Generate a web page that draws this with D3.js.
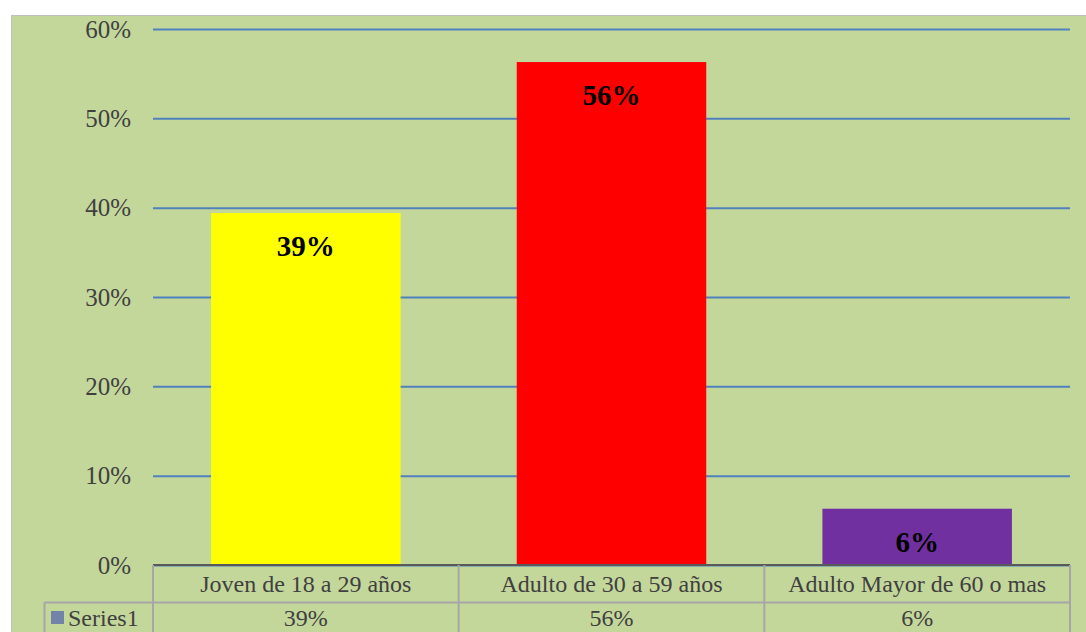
<!DOCTYPE html>
<html>
<head>
<meta charset="utf-8">
<script src="https://cdn.jsdelivr.net/npm/d3@7"></script>
<style>
  body { margin: 0; background: #fff; }
  svg { display: block; }
</style>
</head>
<body>
<script>
const categories = ["Joven de 18 a 29 años", "Adulto de 30 a 59 años", "Adulto Mayor de 60 o mas"];
const values = [0.394, 0.563, 0.063];
const valueLabels = ["39%", "56%", "6%"];
const barColors = ["#ffff00", "#ff0000", "#7030a0"];
const yTicks = [0, 0.1, 0.2, 0.3, 0.4, 0.5, 0.6];
const seriesName = "Series1";

const width = 1086;
const height = 632;
const margin = { top: 29, left: 153, right: 16, bottom: 67 };
const font = "'Liberation Serif', 'DejaVu Serif', serif";
const textSize = 24;

const svg = d3.select("body").append("svg")
  .attr("width", width)
  .attr("height", height);

//Chart background
svg.append("rect")
  .attr("x", 11.5).attr("y", 15.5)
  .attr("width", width).attr("height", height)
  .attr("fill", "#c4d79b")
  .attr("stroke", "#bfbfbf");

const x = d3.scaleBand()
  .domain(categories)
  .range([margin.left, width - margin.right])
  .paddingInner(0.38)
  .paddingOuter(0.19);

const y = d3.scaleLinear()
  .domain([0, 0.6])
  .range([height - margin.bottom, margin.top]);

//Gridlines and y labels
const yAxis = d3.axisLeft(y)
  .tickValues(yTicks)
  .tickFormat(d3.format(".0%"))
  .tickSize(-(width - margin.right - margin.left))
  .tickPadding(22);

const gy = svg.append("g")
  .attr("transform", "translate(" + margin.left + ",0)")
  .call(yAxis);
gy.select(".domain").remove();
gy.selectAll(".tick line")
  .attr("stroke", "#4f81bd")
  .attr("stroke-width", 2);
gy.selectAll(".tick text")
  .attr("font-family", font)
  .attr("font-size", 25)
  .attr("fill", "#404040");

//Bars
svg.selectAll("rect.bar")
  .data(values)
  .enter()
  .append("rect")
  .attr("class", "bar")
  .attr("x", (d, i) => x(categories[i]))
  .attr("y", (d) => y(d))
  .attr("width", x.bandwidth())
  .attr("height", (d) => y(0) - y(d))
  .attr("fill", (d, i) => barColors[i]);

svg.selectAll("text.value")
  .data(values)
  .enter()
  .append("text")
  .attr("class", "value")
  .attr("x", (d, i) => x(categories[i]) + x.bandwidth() / 2)
  .attr("y", (d) => y(d) + 43)
  .attr("text-anchor", "middle")
  .attr("font-family", font)
  .attr("font-weight", "bold")
  .attr("font-size", 29)
  .attr("fill", "#000")
  .text((d, i) => valueLabels[i]);

//Data table
const tableTop = y(0);
const rowH = 37;
const colEdges = [margin.left].concat(categories.map((c) => x(c) + x.bandwidth() / 2 + x.step() / 2));
const table = svg.append("g");

table.append("line")
  .attr("x1", margin.left).attr("x2", width - margin.right)
  .attr("y1", tableTop).attr("y2", tableTop)
  .attr("stroke", "#595959").attr("stroke-width", 2);
table.append("line")
  .attr("x1", 44.5).attr("x2", width - margin.right)
  .attr("y1", tableTop + rowH + 0.5).attr("y2", tableTop + rowH + 0.5)
  .attr("stroke", "#a6a6a6").attr("stroke-width", 2);
table.append("line")
  .attr("x1", 44.5).attr("x2", 44.5)
  .attr("y1", tableTop + rowH).attr("y2", height)
  .attr("stroke", "#a6a6a6").attr("stroke-width", 2);
table.selectAll("line.col")
  .data(colEdges)
  .enter()
  .append("line")
  .attr("class", "col")
  .attr("x1", (d) => d).attr("x2", (d) => d)
  .attr("y1", tableTop).attr("y2", height)
  .attr("stroke", "#a6a6a6").attr("stroke-width", 2);

table.selectAll("text.cat")
  .data(categories)
  .enter()
  .append("text")
  .attr("class", "cat")
  .attr("x", (d) => x(d) + x.bandwidth() / 2)
  .attr("y", tableTop + 27)
  .attr("text-anchor", "middle")
  .attr("font-family", font)
  .attr("font-size", textSize)
  .attr("fill", "#404040")
  .text((d) => d);

table.selectAll("text.cell")
  .data(valueLabels)
  .enter()
  .append("text")
  .attr("class", "cell")
  .attr("x", (d, i) => x(categories[i]) + x.bandwidth() / 2)
  .attr("y", tableTop + rowH + 24)
  .attr("text-anchor", "middle")
  .attr("font-family", font)
  .attr("font-size", textSize)
  .attr("fill", "#404040")
  .text((d) => d);

table.append("rect")
  .attr("x", 51).attr("y", tableTop + rowH + 9)
  .attr("width", 13).attr("height", 13)
  .attr("fill", "#7282a8");
table.append("text")
  .attr("x", 68)
  .attr("y", tableTop + rowH + 24)
  .attr("font-family", font)
  .attr("font-size", textSize)
  .attr("fill", "#404040")
  .text(seriesName);
</script>
</body>
</html>
